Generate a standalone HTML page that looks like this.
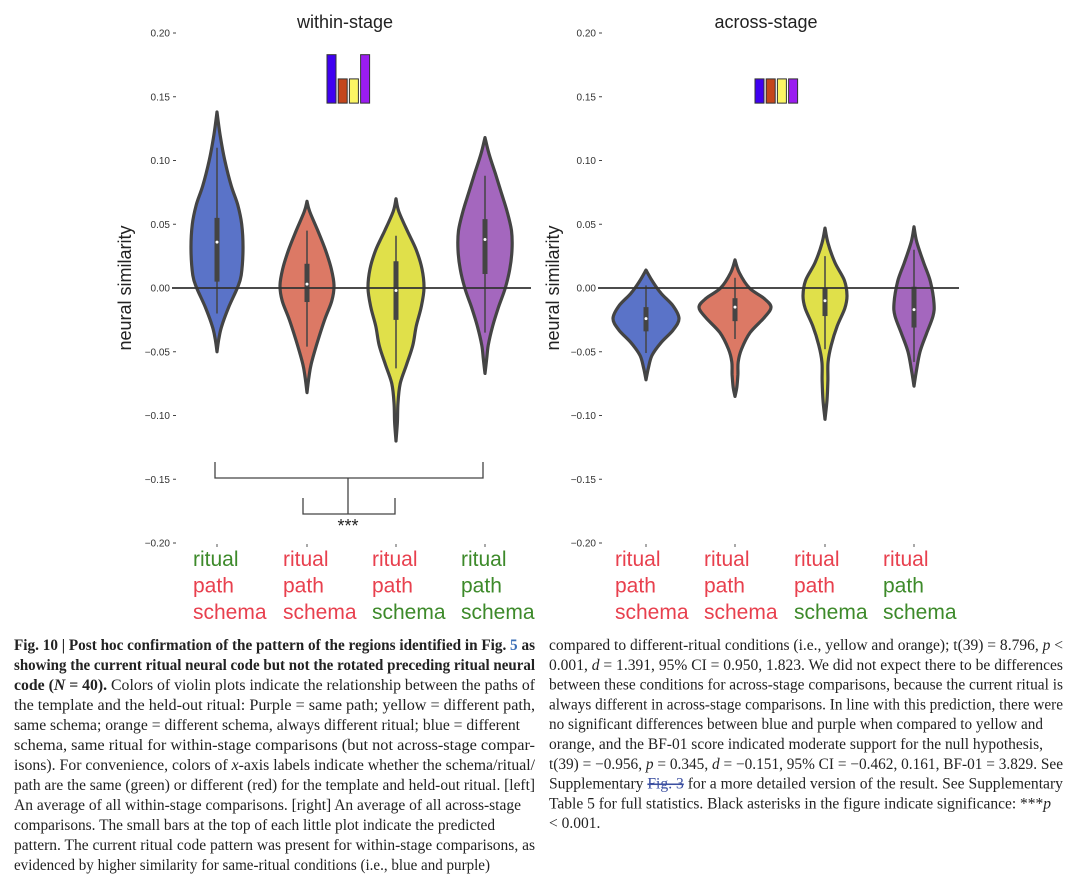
<!DOCTYPE html>
<html><head><meta charset="utf-8">
<style>
html,body{margin:0;padding:0;background:#fff;}
svg{display:block;}
.tick{font-family:"Liberation Sans",sans-serif;font-size:10px;fill:#333;}
.cap{font-family:"Liberation Serif",serif;font-size:15.5px;fill:#222;}
</style></head>
<body>
<svg id="fig" width="1080" height="877" viewBox="0 0 1080 877" xmlns="http://www.w3.org/2000/svg">
<g id="plots"></g>
<g id="caption"></g>
</svg>
<script>
// ---------- data ----------
const yTicks = [0.20, 0.15, 0.10, 0.05, 0.00, -0.05, -0.10, -0.15, -0.20];
const conditions = ['blue', 'orange', 'yellow', 'purple'];
const fills = ['#5a73c8', '#dc7965', '#e0e04a', '#a467be'];
// violin profiles: [value, relative half-width 0..1]
const withinProfiles = [
  [[0.138,0],[0.12,0.12],[0.10,0.3],[0.08,0.55],[0.065,0.8],[0.05,0.95],[0.03,1.0],[0.01,0.93],[0.0,0.78],[-0.015,0.45],[-0.03,0.18],[-0.04,0.07],[-0.05,0]],
  [[0.068,0],[0.06,0.1],[0.045,0.4],[0.03,0.68],[0.015,0.9],[0.002,1.0],[-0.01,0.92],[-0.025,0.65],[-0.045,0.35],[-0.06,0.15],[-0.07,0.07],[-0.082,0]],
  [[0.07,0],[0.06,0.1],[0.045,0.4],[0.03,0.72],[0.015,0.93],[0.0,1.0],[-0.015,0.9],[-0.03,0.72],[-0.045,0.6],[-0.06,0.38],[-0.075,0.15],[-0.09,0.07],[-0.105,0.05],[-0.12,0]],
  [[0.118,0],[0.105,0.15],[0.09,0.38],[0.075,0.6],[0.06,0.82],[0.045,0.98],[0.03,1.0],[0.015,0.92],[0.0,0.75],[-0.015,0.5],[-0.03,0.28],[-0.045,0.12],[-0.056,0.06],[-0.067,0]]
];
const withinWidth = [26, 27, 28, 27];
const withinStats = { // [whiskerLow, q1, median, q3, whiskerHigh]
  blue:[-0.02,0.005,0.036,0.055,0.11], orange:[-0.046,-0.011,0.003,0.019,0.045],
  yellow:[-0.063,-0.025,-0.002,0.021,0.041], purple:[-0.035,0.011,0.038,0.054,0.088]
};
const acrossProfiles = [
  [[0.014,0],[0.006,0.18],[-0.004,0.45],[-0.014,0.82],[-0.024,1.0],[-0.033,0.82],[-0.043,0.45],[-0.053,0.18],[-0.063,0.07],[-0.072,0]],
  [[0.022,0],[0.012,0.12],[0.0,0.4],[-0.008,0.8],[-0.015,1.0],[-0.023,0.82],[-0.035,0.42],[-0.048,0.18],[-0.058,0.09],[-0.068,0.08],[-0.078,0.05],[-0.085,0]],
  [[0.047,0],[0.035,0.14],[0.02,0.45],[0.006,0.88],[-0.006,1.0],[-0.016,0.9],[-0.03,0.55],[-0.045,0.28],[-0.058,0.14],[-0.072,0.13],[-0.088,0.09],[-0.103,0]],
  [[0.048,0],[0.036,0.14],[0.02,0.48],[0.005,0.82],[-0.012,1.0],[-0.022,0.95],[-0.036,0.62],[-0.05,0.3],[-0.064,0.13],[-0.077,0]]
];
const acrossWidth = [33, 36, 22, 20];
const acrossStats = {
  blue:[-0.051,-0.034,-0.024,-0.015,0.002], orange:[-0.04,-0.026,-0.015,-0.008,0.008],
  yellow:[-0.048,-0.022,-0.01,0.0,0.025], purple:[-0.058,-0.031,-0.017,0.001,0.03]
};
const withinPredicted = [0.183, 0.164, 0.164, 0.183];
const acrossPredicted = [0.164, 0.164, 0.164, 0.164];
const predColors = ['#3f00f0', '#c4461c', '#fbf564', '#9a1cf0'];
const G='#3d8a2a', R='#e8404e';
const withinLabelColors = [[G,R,R],[R,R,R],[R,R,G],[G,G,G]];
const acrossLabelColors = [[R,R,R],[R,R,R],[R,R,G],[R,G,G]];
const labelWords = ['ritual','path','schema'];

// ---------- helpers ----------
const NS='http://www.w3.org/2000/svg';
const root=document.getElementById('plots');
function mk(tag, attrs, parent){const e=document.createElementNS(NS,tag);for(const k in attrs)e.setAttribute(k,attrs[k]);(parent||root).appendChild(e);return e;}
const y0=288, pxPerUnit=1275;
function yScale(v){return y0 - v*pxPerUnit;}
function smoothPath(pts){
  let d='M'+pts[0][0].toFixed(1)+','+pts[0][1].toFixed(1);
  for(let i=0;i<pts.length-1;i++){
    const p0=pts[Math.max(0,i-1)],p1=pts[i],p2=pts[i+1],p3=pts[Math.min(pts.length-1,i+2)];
    const c1=[p1[0]+(p2[0]-p0[0])/6,p1[1]+(p2[1]-p0[1])/6];
    const c2=[p2[0]-(p3[0]-p1[0])/6,p2[1]-(p3[1]-p1[1])/6];
    d+=' C'+c1[0].toFixed(1)+','+c1[1].toFixed(1)+' '+c2[0].toFixed(1)+','+c2[1].toFixed(1)+' '+p2[0].toFixed(1)+','+p2[1].toFixed(1);
  }
  return d;
}

function drawPanel(cfg){
  const g=mk('g',{});
  
  
  const t=mk('text',{x:cfg.titleX,y:28,'text-anchor':'middle','font-family':'Liberation Sans, sans-serif','font-size':'18',fill:'#222'},g);
  t.textContent=cfg.title;
  
  
  const yl=mk('text',{x:0,y:0,transform:'translate('+cfg.ylabelX+',288) rotate(-90)','text-anchor':'middle','font-family':'Liberation Sans, sans-serif','font-size':'18',fill:'#222'},g);
  yl.textContent='neural similarity';
  
  
  yTicks.forEach(v=>{
    const y=yScale(v);
    const tx=mk('text',{x:cfg.axisX-5,y:y+3.5,'text-anchor':'end',class:'tick'},g);
    tx.textContent=(v<0?'\u2212':'')+Math.abs(v).toFixed(2);
    
    
    mk('line',{x1:cfg.axisX-2,x2:cfg.axisX+1,y1:y,y2:y,stroke:'#444','stroke-width':1},g);
  });
  cfg.pred.forEach((v,i)=>{
    const r=mk('rect',{x:cfg.predX+i*11.2,y:yScale(v),width:9,height:yScale(0.145)-yScale(v),fill:predColors[i],stroke:'#333','stroke-width':1},g);
    
    
  });
  conditions.forEach((c,i)=>{
    const cx=cfg.centers[i], prof=cfg.profiles[i], w=cfg.widths[i];
    const right=prof.map(p=>[cx+p[1]*w,yScale(p[0])]);
    const left=prof.slice().reverse().map(p=>[cx-p[1]*w,yScale(p[0])]);
    const vg=mk('g',{},g);
    
    
    const d=smoothPath(right)+' '+smoothPath(left).replace(/^M/,'L')+' Z';
    mk('path',{d:d,fill:fills[i],stroke:'#444','stroke-width':3.2,'stroke-linejoin':'round'},vg);
    const s=cfg.stats[c];
    mk('line',{x1:cx,x2:cx,y1:yScale(s[0]),y2:yScale(s[4]),stroke:'#444','stroke-width':1.5},vg);
    mk('line',{x1:cx,x2:cx,y1:yScale(s[1]),y2:yScale(s[3]),stroke:'#444','stroke-width':5},vg);
    mk('circle',{cx:cx,cy:yScale(s[2]),r:1.5,fill:'#fff'},vg);
    mk('line',{x1:cx,x2:cx,y1:544,y2:547,stroke:'#555','stroke-width':1},g);
    labelWords.forEach((wd,k)=>{
      const lt=mk('text',{x:cx-cfg.labelOff,y:566+k*26.5,'font-family':'Liberation Sans, sans-serif','font-size':'21',fill:cfg.labelColors[i][k]},g);
      lt.textContent=wd;
      
      
    });
  });
  const zl=mk('line',{x1:cfg.zeroX1,x2:cfg.zeroX2,y1:y0,y2:y0,stroke:'#333','stroke-width':1.8},g);
  
  
}

drawPanel({name:'within-stage-panel',title:'within-stage',titleX:345,ylabelX:131,axisX:175,
  centers:[217,307,396,485],profiles:withinProfiles,widths:withinWidth,stats:withinStats,
  pred:withinPredicted,predX:327,labelColors:withinLabelColors,zeroX1:172,zeroX2:531,labelOff:24});
drawPanel({name:'across-stage-panel',title:'across-stage',titleX:766,ylabelX:559,axisX:601,
  centers:[646,735,825,914],profiles:acrossProfiles,widths:acrossWidth,stats:acrossStats,
  pred:acrossPredicted,predX:755,labelColors:acrossLabelColors,zeroX1:598,zeroX2:959,labelOff:31});

const br=mk('g',{fill:'none',stroke:'#444','stroke-width':1.3});


mk('path',{d:'M215,462 V478 H483 V462 M348,478 V514 M303,498 V514 H395 V498'},br);
const st=mk('text',{x:348,y:532,'text-anchor':'middle','font-family':'Liberation Sans, sans-serif','font-size':'18',fill:'#222'});
st.textContent='***';



const cap=document.getElementById('caption');
const leftLines=[
 ['<tspan font-weight="bold">Fig. 10 | Post hoc confirmation of the pattern of the regions identified in Fig. <tspan fill="#3b6fb6">5</tspan> as</tspan>',521],
 ['<tspan font-weight="bold">showing the current ritual neural code but not the rotated preceding ritual neural</tspan>',521],
 ['<tspan font-weight="bold">code (<tspan font-style="italic">N</tspan> = 40).</tspan> Colors of violin plots indicate the relationship between the paths of',521],
 ['the template and the held-out ritual: Purple = same path; yellow = different path,',521],
 ['same schema; orange = different schema, always different ritual; blue = different',506],
 ['schema, same ritual for within-stage comparisons (but not across-stage compar-',521],
 ['isons). For convenience, colors of <tspan font-style="italic">x</tspan>-axis labels indicate whether the schema/ritual/',521],
 ['path are the same (green) or different (red) for the template and held-out ritual. [left]',521],
 ['An average of all within-stage comparisons. [right] An average of all across-stage',507],
 ['comparisons. The small bars at the top of each little plot indicate the predicted',481],
 ['pattern. The current ritual code pattern was present for within-stage comparisons, as',521],
 ['evidenced by higher similarity for same-ritual conditions (i.e., blue and purple)',476]
];
const rightLines=[
 ['compared to different-ritual conditions (i.e., yellow and orange); t(39) = 8.796, <tspan font-style="italic">p</tspan> &lt;',514],
 ['0.001, <tspan font-style="italic">d</tspan> = 1.391, 95% CI = 0.950, 1.823. We did not expect there to be differences',514],
 ['between these conditions for across-stage comparisons, because the current ritual is',514],
 ['always different in across-stage comparisons. In line with this prediction, there were',514],
 ['no significant differences between blue and purple when compared to yellow and',494],
 ['orange, and the BF-01 score indicated moderate support for the null hypothesis,',494],
 ['t(39) = −0.956, <tspan font-style="italic">p</tspan> = 0.345, <tspan font-style="italic">d</tspan> = −0.151, 95% CI = −0.462, 0.161, BF-01 = 3.829. See',514],
 ['Supplementary <tspan fill="#3b4fa0" text-decoration="line-through">Fig. 3</tspan> for a more detailed version of the result. See Supplementary',514],
 ['Table 5 for full statistics. Black asterisks in the figure indicate significance: ***<tspan font-style="italic">p</tspan>',502],
 ['&lt; 0.001.',0]
];
let html='';
leftLines.forEach((l,i)=>{html+='<text class="cap" x="14" y="'+(650+i*20)+'" textLength="'+l[1]+'" lengthAdjust="spacingAndGlyphs">'+l[0]+'</text>';});
rightLines.forEach((l,i)=>{const tl=l[1]?' textLength="'+l[1]+'" lengthAdjust="spacingAndGlyphs"':'';html+='<text class="cap" x="549" y="'+(650+i*19.8)+'"'+tl+'>'+l[0]+'</text>';});
cap.innerHTML=html;
</script>
</body></html>
